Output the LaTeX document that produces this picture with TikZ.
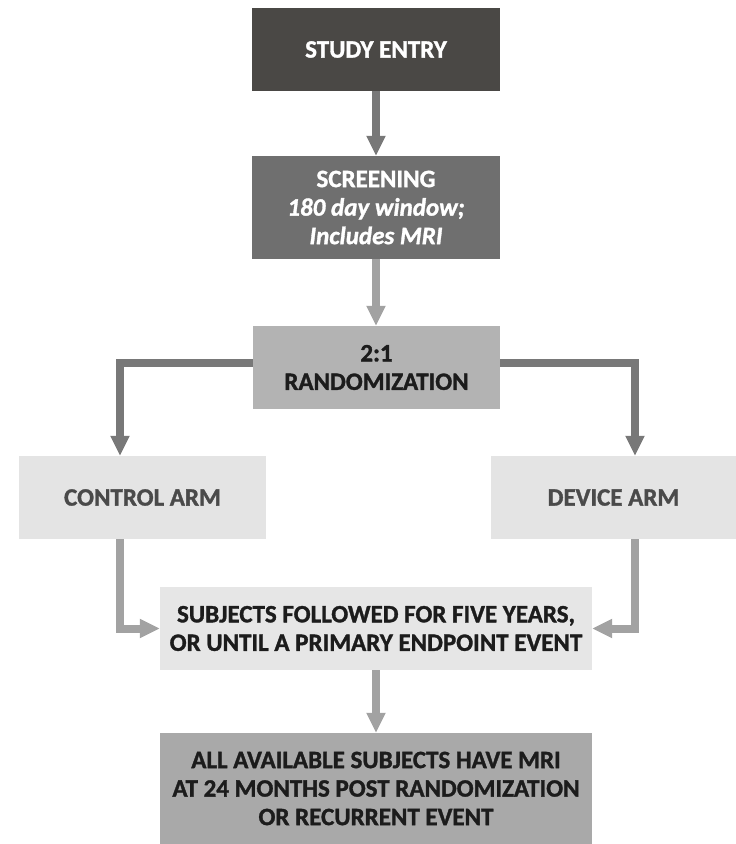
\documentclass[tikz,border=0pt]{standalone}
\usepackage{fontspec}
\setmainfont{Carlito}[BoldFeatures={FakeBold=1.3},BoldItalicFeatures={FakeBold=1.3}]
\usetikzlibrary{arrows.meta}
\definecolor{entrygray}{HTML}{4A4845}
\definecolor{screengray}{HTML}{6F6F6F}
\definecolor{randgray}{HTML}{B3B3B3}
\definecolor{armgray}{HTML}{E4E4E4}
\definecolor{followgray}{HTML}{E6E6E6}
\definecolor{mrigray}{HTML}{A9A9A9}
\definecolor{armtext}{HTML}{4A4A4A}
\definecolor{darktext}{HTML}{1C1C1C}
\definecolor{darkflow}{HTML}{787878}
\definecolor{lightflow}{HTML}{A2A2A2}
\begin{document}
\begin{tikzpicture}[x=1pt,y=-1pt,%
% common options for blocks:
block/.style = {align=center, inner sep=0,
            font=\fontsize{25}{28.5}\selectfont\bfseries},
% common options for the arrows:
flow/.style = {line width=8pt, -{Triangle[width=18pt,length=20pt]}}]
\useasboundingbox (0,0) rectangle (736,844);
\node[block,fill=entrygray,text=white,minimum width=248pt,minimum height=83pt] (entry) at (376,49.5) {STUDY ENTRY};
\node[block,fill=screengray,text=white,minimum width=248pt,minimum height=103pt] (screen) at (376,207.5) {SCREENING\\\textit{180 day window;}\\\textit{Includes MRI}};
\node[block,fill=randgray,text=darktext,minimum width=247pt,minimum height=83pt] (rand) at (376.5,367.5) {2:1\\RANDOMIZATION};
\node[block,fill=armgray,text=armtext,minimum width=247pt,minimum height=83pt] (ctrl) at (142.5,497.5) {CONTROL ARM};
\node[block,fill=armgray,text=armtext,minimum width=245pt,minimum height=83pt] (dev) at (613.5,497.5) {DEVICE ARM};
\node[block,fill=followgray,text=darktext,minimum width=432pt,minimum height=83pt] (follow) at (376,628.5) {SUBJECTS FOLLOWED FOR FIVE YEARS,\\OR UNTIL A PRIMARY ENDPOINT EVENT};
\node[block,fill=mrigray,text=darktext,minimum width=432pt,minimum height=111pt] (mri) at (376,788.5) {ALL AVAILABLE SUBJECTS HAVE MRI\\AT 24 MONTHS POST RANDOMIZATION\\OR RECURRENT EVENT};
\draw[flow,darkflow] (entry.south) to (screen.north);
\draw[flow,lightflow] (screen.south) to ([xshift=-0.5pt]rand.north);
\draw[flow,darkflow] ([yshift=5pt]rand.west) -| ([xshift=-22.5pt]ctrl.north);
\draw[flow,darkflow] ([yshift=5pt]rand.east) -| ([xshift=21.5pt]dev.north);
\draw[flow,lightflow] ([xshift=-22.5pt]ctrl.south) |- (follow.west);
\draw[flow,lightflow] ([xshift=21.5pt]dev.south) |- (follow.east);
\draw[flow,lightflow] (follow.south) to (mri.north);
\end{tikzpicture}
\end{document}
